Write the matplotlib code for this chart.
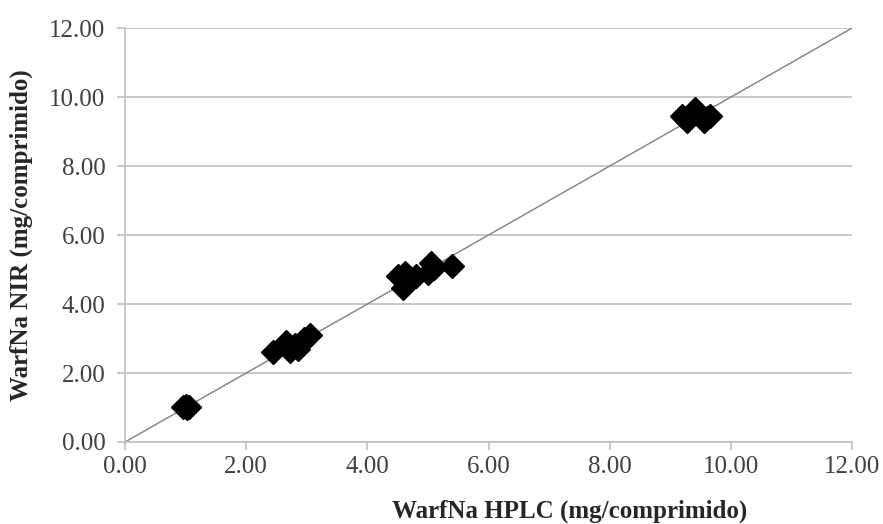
import matplotlib
matplotlib.use("Agg")
import matplotlib.pyplot as plt

plt.rcParams['font.family'] = ['Liberation Serif', 'DejaVu Serif']

# WarfNa content per tablet: reference HPLC vs NIR prediction
hplc = [0.95, 1.00, 1.05, 1.02,
        2.45, 2.65, 2.72, 2.80, 2.85, 2.95, 3.05,
        4.50, 4.58, 4.62, 4.70, 4.80, 5.00, 5.05, 5.10, 5.40,
        9.20, 9.28, 9.35, 9.40, 9.48, 9.55, 9.60, 9.65]
nir = [1.00, 1.05, 1.00, 0.98,
       2.60, 2.90, 2.65, 2.80, 2.70, 3.00, 3.10,
       4.80, 4.45, 4.90, 4.75, 4.80, 4.90, 5.20, 5.05, 5.10,
       9.45, 9.30, 9.50, 9.65, 9.50, 9.30, 9.40, 9.45]
ticks = [0, 2, 4, 6, 8, 10, 12]
tick_labels = ["0.00", "2.00", "4.00", "6.00", "8.00", "10.00", "12.00"]

fig = plt.figure(figsize=(8.83, 5.24), dpi=100)
ax = fig.add_axes([0.1416, 0.1565, 0.8234, 0.79])

grid_c = "#bfbfbf"
ax.set_xlim(0, 12)
ax.set_ylim(0, 12)
ax.set_xticks(ticks)
ax.set_yticks(ticks)
ax.set_xticklabels(tick_labels)
ax.set_yticklabels(tick_labels)
ax.yaxis.grid(True, color=grid_c, linewidth=1.2)
ax.set_axisbelow(True)
for s in ["top", "right"]:
    ax.spines[s].set_visible(False)
for s in ["left", "bottom"]:
    ax.spines[s].set_color(grid_c)
    ax.spines[s].set_linewidth(1.2)
ax.tick_params(axis="both", direction="out", length=6, width=1.2, color=grid_c,
               labelsize=18, labelcolor="#404040")
ax.tick_params(axis="y", pad=8)
ax.tick_params(axis="x", pad=4)

# identity line
ax.plot([0, 12], [0, 12], color="#808080", linewidth=1.0, zorder=2)

ax.plot(hplc, nir, linestyle="none", marker="D", markersize=12,
        color="black", zorder=3)

ax.set_xlabel("WarfNa HPLC (mg/comprimido)", fontsize=18, fontweight="bold",
              color="#262626")
ax.xaxis.set_label_coords(0.612, -0.14)
ax.set_ylabel("WarfNa NIR (mg/comprimido)", fontsize=18, fontweight="bold",
              color="#262626")
ax.yaxis.set_label_coords(-0.127, 0.5)

fig.savefig("out.png", dpi=100)
